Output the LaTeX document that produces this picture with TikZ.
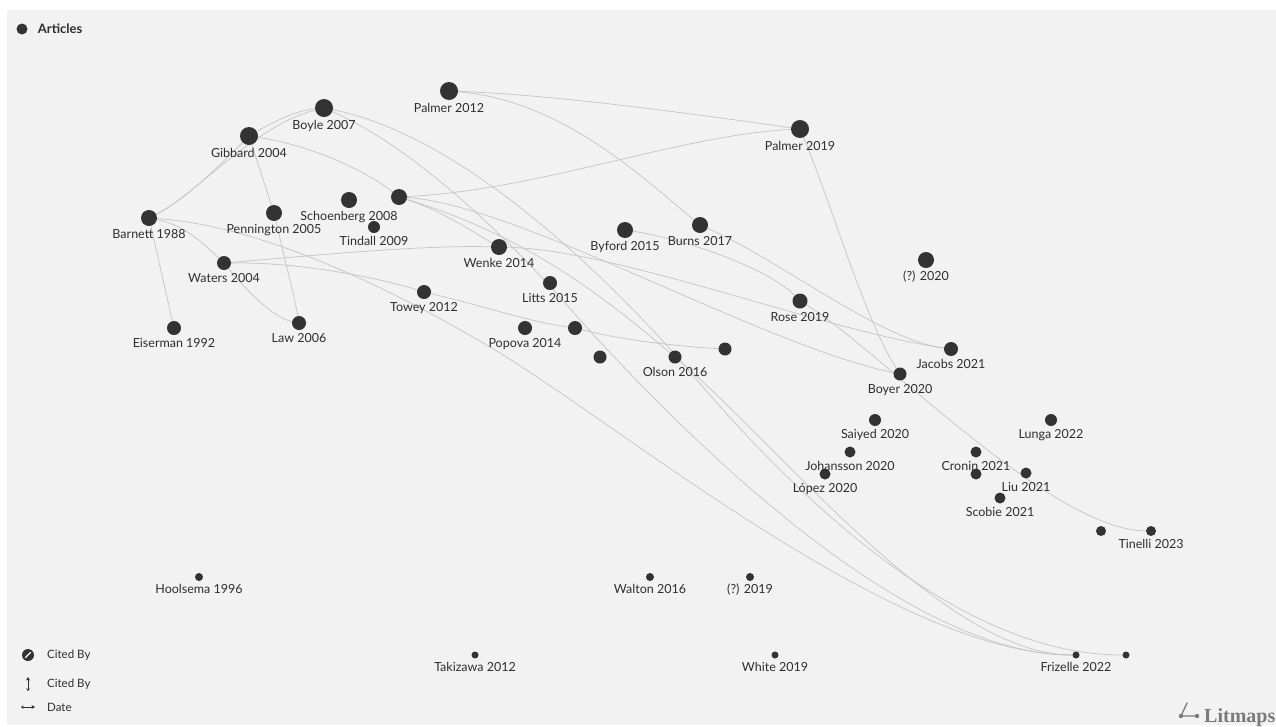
\documentclass[tikz,border=0pt]{standalone}
\usepackage{fontspec}
\setmainfont{Lato}
\newfontfamily\logofont{Liberation Serif}
\usepackage{xcolor}
\usetikzlibrary{positioning,arrows.meta}
\definecolor{bggrey}{HTML}{F2F2F2}
\definecolor{dotgrey}{HTML}{333333}
\definecolor{linegrey}{HTML}{C6C6C6}
\definecolor{labelgrey}{HTML}{2E2E2E}
\definecolor{logogrey}{HTML}{7A7A7A}
\pgfdeclarelayer{paper}
\pgfdeclarelayer{links}
\pgfsetlayers{paper,links,main}
\tikzset{
    article-dot/.style = {circle, fill=dotgrey, draw=none, inner sep=0pt, minimum size=#1},
    article-label/.style = {font=\fontsize{12.5}{13}\selectfont, text=labelgrey, inner sep=0pt, text height=8.5pt, text depth=2.5pt},
    legend-text/.style = {font=\fontsize{11.5}{12}\selectfont, text=labelgrey, inner sep=0pt, anchor=west},
    cite-line/.style = {draw=linegrey, line width=0.75pt},
}

\begin{document}
\begin{tikzpicture}[x=1pt,y=-1pt]
\useasboundingbox (0,0) rectangle (1276,726);
\begin{pgfonlayer}{paper}
\fill[white] (0,0) rectangle (1276,726);
\fill[bggrey] (7,10) rectangle (1276,725);
\end{pgfonlayer}

% legend
\node[article-dot=11pt] (articles-dot) at (22,29) {};
\node[legend-text, font=\fontsize{13}{14}\selectfont\bfseries, right=10pt of articles-dot] (articles-txt) {Articles};
\node[article-dot=12pt] (citedby-icon) at (28,655) {};
\draw[white, line width=1.3pt, line cap=round] (25.5,657.5) -- (30.5,652.5);
\draw[labelgrey, line width=0.9pt, {Stealth[length=3.5pt,width=4pt]}-{Stealth[length=2.5pt,width=3.5pt]}] (28,677) -- (28,691);
\draw[labelgrey, line width=0.9pt, {Stealth[length=2.5pt,width=3.5pt]}-{Stealth[length=3.5pt,width=4pt]}] (21,707) -- (35,707);
\node[legend-text] (citedby-txt) at (47,655) {Cited By};
\node[legend-text] (citedcount-txt) at (47,684) {Cited By};
\node[legend-text] (date-txt) at (47,707) {Date};

% articles
\node[article-dot=18pt] (palmer12) at (449,91) {};
\node[article-dot=18pt] (boyle07) at (324,108) {};
\node[article-dot=18pt] (gibbard04) at (249,136) {};
\node[article-dot=18pt] (palmer19) at (800,129) {};
\node[article-dot=16pt] (schoenberg08) at (349,200) {};
\node[article-dot=16pt] (unl1) at (399,197) {};
\node[article-dot=12pt] (tindall09) at (374,227) {};
\node[article-dot=16pt] (barnett88) at (149,218) {};
\node[article-dot=16pt] (pennington05) at (274,213) {};
\node[article-dot=14pt] (waters04) at (224,263) {};
\node[article-dot=14pt] (eiserman92) at (174,328) {};
\node[article-dot=14pt] (law06) at (299,323) {};
\node[article-dot=14pt] (towey12) at (424,292) {};
\node[article-dot=16pt] (wenke14) at (499,247) {};
\node[article-dot=14pt] (litts15) at (550,283) {};
\node[article-dot=16pt] (byford15) at (625,230) {};
\node[article-dot=16pt] (burns17) at (700,225) {};
\node[article-dot=14pt] (popova14) at (525,328) {};
\node[article-dot=14pt] (unl2) at (575,328) {};
\node[article-dot=13pt] (unl3) at (600,357) {};
\node[article-dot=13pt] (olson16) at (675,357) {};
\node[article-dot=13pt] (unl4) at (725,349) {};
\node[article-dot=15pt] (rose19) at (800,301) {};
\node[article-dot=16pt] (anon20) at (926,260) {};
\node[article-dot=14pt] (jacobs21) at (951,349) {};
\node[article-dot=13pt] (boyer20) at (900,374) {};
\node[article-dot=12pt] (saiyed20) at (875,420) {};
\node[article-dot=12pt] (lunga22) at (1051,420) {};
\node[article-dot=11pt] (johansson20) at (850,452) {};
\node[article-dot=11pt] (lopez20) at (825,474) {};
\node[article-dot=11pt] (cronin21) at (976,452) {};
\node[article-dot=11pt] (unl5) at (976,474) {};
\node[article-dot=11pt] (liu21) at (1026,473) {};
\node[article-dot=11pt] (scobie21) at (1000,498) {};
\node[article-dot=10pt] (unl6) at (1101,531) {};
\node[article-dot=10pt] (tinelli23) at (1151,531) {};
\node[article-dot=8pt] (hoolsema96) at (199,577) {};
\node[article-dot=8pt] (walton16) at (650,577) {};
\node[article-dot=8pt] (anon19) at (750,577) {};
\node[article-dot=7pt] (takizawa12) at (475,655) {};
\node[article-dot=7pt] (white19) at (775,655) {};
\node[article-dot=7pt] (frizelle22) at (1076,655) {};
\node[article-dot=7pt] (unl7) at (1126,655) {};

% labels
\node[article-label, below=4pt of palmer12] (palmer12-txt) {Palmer 2012};
\node[article-label, below=4pt of boyle07] (boyle07-txt) {Boyle 2007};
\node[article-label, below=4pt of gibbard04] (gibbard04-txt) {Gibbard 2004};
\node[article-label, below=4pt of palmer19] (palmer19-txt) {Palmer 2019};
\node[article-label, below=4pt of schoenberg08] (schoenberg08-txt) {Schoenberg 2008};
\node[article-label, below=4pt of tindall09] (tindall09-txt) {Tindall 2009};
\node[article-label, below=4pt of barnett88] (barnett88-txt) {Barnett 1988};
\node[article-label, below=4pt of pennington05] (pennington05-txt) {Pennington 2005};
\node[article-label, below=4pt of waters04] (waters04-txt) {Waters 2004};
\node[article-label, below=4pt of eiserman92] (eiserman92-txt) {Eiserman 1992};
\node[article-label, below=4pt of law06] (law06-txt) {Law 2006};
\node[article-label, below=4pt of towey12] (towey12-txt) {Towey 2012};
\node[article-label, below=4pt of wenke14] (wenke14-txt) {Wenke 2014};
\node[article-label, below=4pt of litts15] (litts15-txt) {Litts 2015};
\node[article-label, below=4pt of byford15] (byford15-txt) {Byford 2015};
\node[article-label, below=4pt of burns17] (burns17-txt) {Burns 2017};
\node[article-label, below=4pt of popova14] (popova14-txt) {Popova 2014};
\node[article-label, below=4pt of olson16] (olson16-txt) {Olson 2016};
\node[article-label, below=4pt of rose19] (rose19-txt) {Rose 2019};
\node[article-label, below=4pt of anon20] (anon20-txt) {(?) 2020};
\node[article-label, below=4pt of jacobs21] (jacobs21-txt) {Jacobs 2021};
\node[article-label, below=4pt of boyer20] (boyer20-txt) {Boyer 2020};
\node[article-label, below=4pt of saiyed20] (saiyed20-txt) {Saiyed 2020};
\node[article-label, below=4pt of lunga22] (lunga22-txt) {Lunga 2022};
\node[article-label, below=4pt of johansson20] (johansson20-txt) {Johansson 2020};
\node[article-label, below=4pt of lopez20] (lopez20-txt) {López 2020};
\node[article-label, below=4pt of cronin21] (cronin21-txt) {Cronin 2021};
\node[article-label, below=4pt of liu21] (liu21-txt) {Liu 2021};
\node[article-label, below=4pt of scobie21] (scobie21-txt) {Scobie 2021};
\node[article-label, below=4pt of tinelli23] (tinelli23-txt) {Tinelli 2023};
\node[article-label, below=4pt of hoolsema96] (hoolsema96-txt) {Hoolsema 1996};
\node[article-label, below=4pt of walton16] (walton16-txt) {Walton 2016};
\node[article-label, below=4pt of anon19] (anon19-txt) {(?) 2019};
\node[article-label, below=4pt of takizawa12] (takizawa12-txt) {Takizawa 2012};
\node[article-label, below=4pt of white19] (white19-txt) {White 2019};
\node[article-label, below=4pt of frizelle22] (frizelle22-txt) {Frizelle 2022};

% citations
\begin{pgfonlayer}{links}
\draw[cite-line] (barnett88) .. controls (185,200) and (220,165) .. (gibbard04);
\draw[cite-line] (barnett88) .. controls (195,195) and (255,125) .. (boyle07);
\draw[cite-line] (gibbard04) .. controls (280,118) and (300,110) .. (boyle07);
\draw[cite-line] (gibbard04) .. controls (310,145) and (365,170) .. (unl1);
\draw[cite-line] (gibbard04) -- (pennington05);
\draw[cite-line] (pennington05) .. controls (285,260) and (295,300) .. (law06);
\draw[cite-line] (barnett88) -- (eiserman92);
\draw[cite-line] (barnett88) .. controls (185,225) and (205,245) .. (waters04);
\draw[cite-line] (waters04) .. controls (250,295) and (275,318) .. (law06);
\draw[cite-line] (barnett88) .. controls (250,225) and (370,275) .. (500,353) .. controls (640,440) and (900,655) .. (frizelle22);
\draw[cite-line] (waters04) .. controls (320,255) and (420,245) .. (wenke14);
\draw[cite-line] (waters04) .. controls (300,262) and (380,278) .. (towey12);
\draw[cite-line] (towey12) .. controls (480,305) and (530,322) .. (unl2);
\draw[cite-line] (unl2) .. controls (630,342) and (690,347) .. (unl4);
\draw[cite-line] (palmer12) .. controls (560,95) and (700,115) .. (palmer19);
\draw[cite-line] (palmer12) .. controls (560,100) and (640,175) .. (burns17);
\draw[cite-line] (unl1) .. controls (540,190) and (680,135) .. (palmer19);
\draw[cite-line] (palmer19) .. controls (830,200) and (865,320) .. (boyer20);
\draw[cite-line] (byford15) .. controls (690,240) and (770,270) .. (rose19);
\draw[cite-line] (burns17) .. controls (780,260) and (880,340) .. (jacobs21);
\draw[cite-line] (wenke14) .. controls (620,250) and (820,330) .. (jacobs21);
\draw[cite-line] (unl1) .. controls (520,205) and (760,345) .. (boyer20);
\draw[cite-line] (rose19) .. controls (880,350) and (1050,530) .. (tinelli23);
\draw[cite-line] (unl1) .. controls (440,210) and (470,230) .. (wenke14);
\draw[cite-line] (boyle07) .. controls (460,135) and (600,270) .. (680,360) .. controls (780,480) and (950,655) .. (unl7);
\draw[cite-line] (boyle07) .. controls (420,150) and (520,250) .. (580,320) .. controls (680,430) and (900,655) .. (frizelle22);
\draw[cite-line] (unl1) .. controls (540,240) and (620,310) .. (690,370) .. controls (800,470) and (950,655) .. (frizelle22);
\end{pgfonlayer}

% logo
\draw[logogrey, line width=1.3pt, line cap=round] (1187,703) -- (1181,716) -- (1197,716);
\fill[logogrey] (1181,716) circle (2.2pt) (1197,716) circle (2.2pt);
\node[anchor=base west, inner sep=0pt, text=logogrey, font=\logofont\bfseries\fontsize{20}{20}\selectfont] (litmaps-txt) at (1204,722) {Litmaps};
\end{tikzpicture}
\end{document}
